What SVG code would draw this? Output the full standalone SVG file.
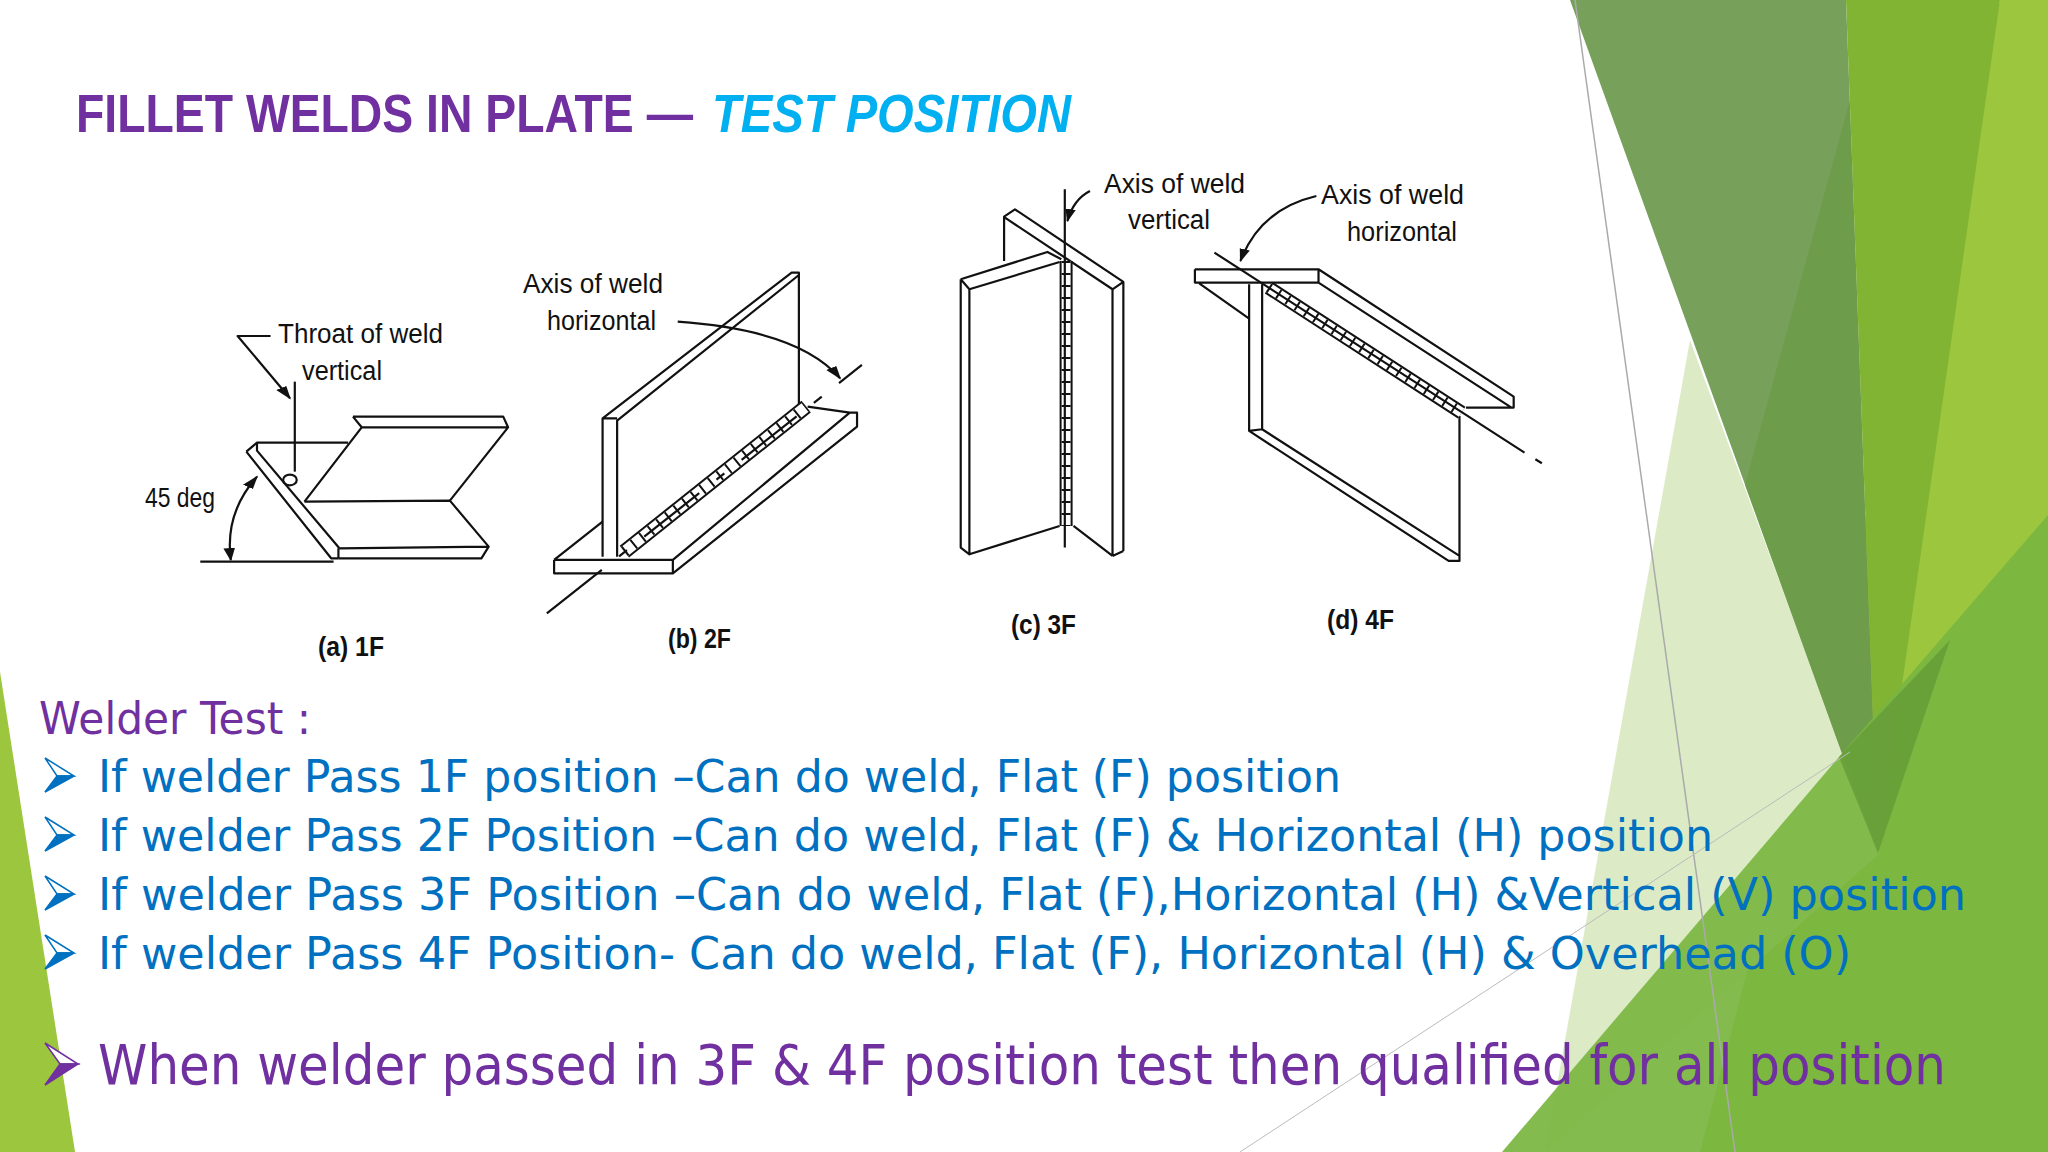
<svg xmlns="http://www.w3.org/2000/svg" width="2048" height="1152" viewBox="0 0 2048 1152">
<defs>
<style>
.ln{fill:none;stroke:#111;stroke-width:2.2;vector-effect:non-scaling-stroke;stroke-linejoin:round}
.fp{fill:#fff;stroke:none}
.lbl{font-family:"Liberation Sans",Arial,sans-serif;font-size:27px;fill:#111}
.cap{font-family:"Liberation Sans",Arial,sans-serif;font-size:27px;font-weight:bold;fill:#111}
.bl{font-family:"DejaVu Sans","Noto Sans",sans-serif;font-size:44px;fill:#0070C0}
.pu{font-family:"DejaVu Sans","Noto Sans",sans-serif;fill:#7030A0}
</style>
<marker id="ah" viewBox="0 0 10 10" refX="9" refY="5" markerWidth="40" markerHeight="40" markerUnits="userSpaceOnUse" orient="auto-start-reverse"><path d="M0,2 L10,5 L0,8 Z" fill="#111"/></marker>
</defs>
<rect width="2048" height="1152" fill="#fff"/>
<g id="background">
<polygon points="2000,0 2048,0 2048,1152 1700,1152" fill="#9DC63F"/>
<polygon points="1690,340 1880,853 1545,1152" fill="#DCEBC6"/>
<polygon points="1570,0 1846,0 1878,853" fill="#77A05A"/>
<polygon points="1846,0 1850,100 1745,485 1878,853" fill="#6A9A45" opacity="0.7"/>
<polygon points="1846,0 2000,0 1878,853" fill="#82B434"/>
<polygon points="1502,1152 1839,757 2048,515 2048,1152" fill="#7AB540" opacity="0.92"/>
<polygon points="1839,757 1878,853 1950,640" fill="#5E9235" opacity="0.6"/>
<polygon points="0,672 75,1152 0,1152" fill="#9DC63F"/>
<line x1="1575" y1="0" x2="1735" y2="1152" stroke="#aaa" stroke-width="1.5"/>
<line x1="1240" y1="1152" x2="1850" y2="752" stroke="#bbb" stroke-width="1"/>
</g>
<g id="title">
<text x="76" y="132" font-family="Liberation Sans, Arial, sans-serif" font-weight="bold" font-size="54" fill="#7030A0" textLength="617" lengthAdjust="spacingAndGlyphs">FILLET WELDS IN PLATE —</text>
<text x="712" y="132" font-family="Liberation Sans, Arial, sans-serif" font-weight="bold" font-style="italic" font-size="54" fill="#00B0F0" textLength="359" lengthAdjust="spacingAndGlyphs">TEST POSITION</text>
</g>
<g id="fig-1F">
<g transform="translate(130,250) scale(0.4847,0.3333)">
<path class="fp" d="M460,500 H770 L780,532 L660,752 L740,890 L725,925 H430 L415,925 L240,605 L262,578 H440 Z"/>
<path class="ln" d="M145,935 H420"/>
<path class="ln" d="M240,605 L262,578 H450 M240,605 L415,925 H430 M262,578 L262,602 L432,895"/>
<path class="ln" d="M360,755 L660,752 L740,890 L725,925 H430 M432,895 L740,890 M430,895 V925"/>
<path class="ln" d="M460,500 H770 L780,532 L660,752 M460,500 L478,532 H780 M478,532 L360,755"/>
<path class="ln" d="M290,258 H222 L330,445" marker-end="url(#ah)"/>
<path class="ln" d="M340,395 V665"/>
<ellipse class="ln" cx="330" cy="690" rx="14" ry="16"/>
<path class="ln" d="M208,930 Q195,790 262,680" marker-start="url(#ah)" marker-end="url(#ah)"/>
</g>
<text class="lbl" x="278" y="343" textLength="165" lengthAdjust="spacingAndGlyphs">Throat of weld</text>
<text class="lbl" x="302" y="380" textLength="80" lengthAdjust="spacingAndGlyphs">vertical</text>
<text class="lbl" x="145" y="507" textLength="70" lengthAdjust="spacingAndGlyphs">45 deg</text>
<text class="cap" x="318" y="656" textLength="66" lengthAdjust="spacingAndGlyphs">(a) 1F</text>
</g>
<g id="fig-2F">
<g transform="translate(130,250) scale(0.4847,0.3333)">
<path class="fp" d="M875,930 L980,815 L975,505 L1365,68 H1380 V470 L1500,488 V530 L1120,970 H875 Z"/>
<path class="ln" d="M975,920 V505 L1365,68 H1380 V470 M1005,920 V512 L1380,75 M975,505 H1005"/>
<path class="ln" d="M875,930 L975,815 M875,930 V970 H1120 L1500,530 V488 H1485 M875,930 H1120 L1485,488 M1120,930 V970 M1398,470 L1485,488"/>
<path d="M1020,905 L1395,470" fill="none" stroke="#111" stroke-width="15" vector-effect="non-scaling-stroke"/>
<path d="M1020,905 L1395,470" fill="none" stroke="#fff" stroke-width="11" vector-effect="non-scaling-stroke"/>
<path d="M1020,905 L1395,470" fill="none" stroke="#111" stroke-width="11" stroke-dasharray="2 9" vector-effect="non-scaling-stroke"/>
<path class="ln" d="M860,1090 L1510,345" stroke-dasharray="70 22 10 22"/>
<path class="ln" d="M1130,215 Q1380,240 1465,385" marker-end="url(#ah)"/>
</g>
<text class="lbl" x="523" y="293" textLength="140" lengthAdjust="spacingAndGlyphs">Axis of weld</text>
<text class="lbl" x="547" y="330" textLength="109" lengthAdjust="spacingAndGlyphs">horizontal</text>
<text class="cap" x="668" y="648" textLength="63" lengthAdjust="spacingAndGlyphs">(b) 2F</text>
</g>
<g id="fig-3F">
<g transform="translate(900,159.3) scale(0.4337,0.3333)">
<path class="fp" d="M240,305 V172 L265,150 L515,368 V1175 L490,1190 L400,1100 L160,1185 L140,1165 V360 Z"/>
<path class="ln" d="M240,305 V172 L265,150 L515,368 V1175 M242,175 L490,390 V1190 M490,390 L515,368 M490,1190 L515,1175 M400,1100 L490,1190"/>
<path class="fp" d="M140,360 L340,278 L372,300 L368,308 V1100 L160,1185 L140,1165 Z"/>
<path class="ln" d="M140,360 L340,278 L372,300 M140,360 L160,390 L368,308 M140,360 V1165 L160,1185 V390 M160,1185 L368,1100"/>
<path d="M383,305 V1100" fill="none" stroke="#111" stroke-width="13" vector-effect="non-scaling-stroke"/>
<path d="M383,305 V1100" fill="none" stroke="#fff" stroke-width="9" vector-effect="non-scaling-stroke"/>
<path d="M383,305 V1100" fill="none" stroke="#111" stroke-width="9" stroke-dasharray="2 10" vector-effect="non-scaling-stroke"/>
<path class="ln" d="M380,90 V1165" stroke-width="1.4"/>
<path class="ln" d="M438,95 Q400,120 386,185" marker-end="url(#ah)"/>
</g>
<text class="lbl" x="1104" y="193" textLength="141" lengthAdjust="spacingAndGlyphs">Axis of weld</text>
<text class="lbl" x="1128" y="229" textLength="82" lengthAdjust="spacingAndGlyphs">vertical</text>
<text class="cap" x="1011" y="634" textLength="65" lengthAdjust="spacingAndGlyphs">(c) 3F</text>
</g>
<g id="fig-4F">
<g transform="translate(900,159.3) scale(0.4337,0.3333)">
<path class="fp" d="M680,330 H965 L1415,712 V745 H1305 L1290,770 V1190 L1265,1205 L805,815 V478 L690,372 L680,370 Z"/>
<path class="ln" d="M680,330 H965 L1415,712 V745 H1305 M680,330 V370 H965 L1410,745 M965,330 V370 M690,372 L805,478"/>
<path class="ln" d="M805,375 V815 L1265,1205 H1290 V770 M835,375 V810 L1290,1190 M805,815 L835,810"/>
<path d="M850,385 L1295,760" fill="none" stroke="#111" stroke-width="14" vector-effect="non-scaling-stroke"/>
<path d="M850,385 L1295,760" fill="none" stroke="#fff" stroke-width="10" vector-effect="non-scaling-stroke"/>
<path d="M850,385 L1295,760" fill="none" stroke="#111" stroke-width="10" stroke-dasharray="2 9" vector-effect="non-scaling-stroke"/>
<path class="ln" d="M725,280 L1440,880 M1465,900 L1480,912"/>
<path class="ln" d="M960,110 Q830,150 785,305" marker-end="url(#ah)"/>
</g>
<text class="lbl" x="1321" y="204" textLength="143" lengthAdjust="spacingAndGlyphs">Axis of weld</text>
<text class="lbl" x="1347" y="241" textLength="110" lengthAdjust="spacingAndGlyphs">horizontal</text>
<text class="cap" x="1327" y="629" textLength="67" lengthAdjust="spacingAndGlyphs">(d) 4F</text>
</g>
<g id="text-block">
<text class="pu" x="39" y="734" font-size="44" textLength="272" lengthAdjust="spacingAndGlyphs">Welder Test :</text>
<g fill="#0070C0" stroke="#0070C0" stroke-width="1.5">
<path d="M45,758 L74,776 L57,776 Z" fill="#fff"/><path d="M57,776 L74,776 L45,792 Z"/>
<path d="M45,817 L74,835 L57,835 Z" fill="#fff"/><path d="M57,835 L74,835 L45,851 Z"/>
<path d="M45,876 L74,894 L57,894 Z" fill="#fff"/><path d="M57,894 L74,894 L45,910 Z"/>
<path d="M45,935 L74,953 L57,953 Z" fill="#fff"/><path d="M57,953 L74,953 L45,969 Z"/>
</g>
<text class="bl" x="98" y="792" textLength="1243" lengthAdjust="spacingAndGlyphs">If welder Pass 1F position –Can do weld, Flat (F) position</text>
<text class="bl" x="98" y="851" textLength="1615" lengthAdjust="spacingAndGlyphs">If welder Pass 2F Position –Can do weld, Flat (F) &amp; Horizontal (H) position</text>
<text class="bl" x="98" y="910" textLength="1868" lengthAdjust="spacingAndGlyphs">If welder Pass 3F Position –Can do weld, Flat (F),Horizontal (H) &amp;Vertical (V) position</text>
<text class="bl" x="98" y="969" textLength="1753" lengthAdjust="spacingAndGlyphs">If welder Pass 4F Position- Can do weld, Flat (F), Horizontal (H) &amp; Overhead (O)</text>
<g fill="#7030A0" stroke="#7030A0" stroke-width="1.5">
<path d="M45,1043 L78,1064 L60,1064 Z" fill="#fff"/><path d="M60,1064 L78,1064 L45,1085 Z"/>
</g>
<text class="pu" x="98" y="1084" font-size="55" textLength="1848" lengthAdjust="spacingAndGlyphs">When welder passed in 3F &amp; 4F position test then qualified for all position</text>
</g>
</svg>
